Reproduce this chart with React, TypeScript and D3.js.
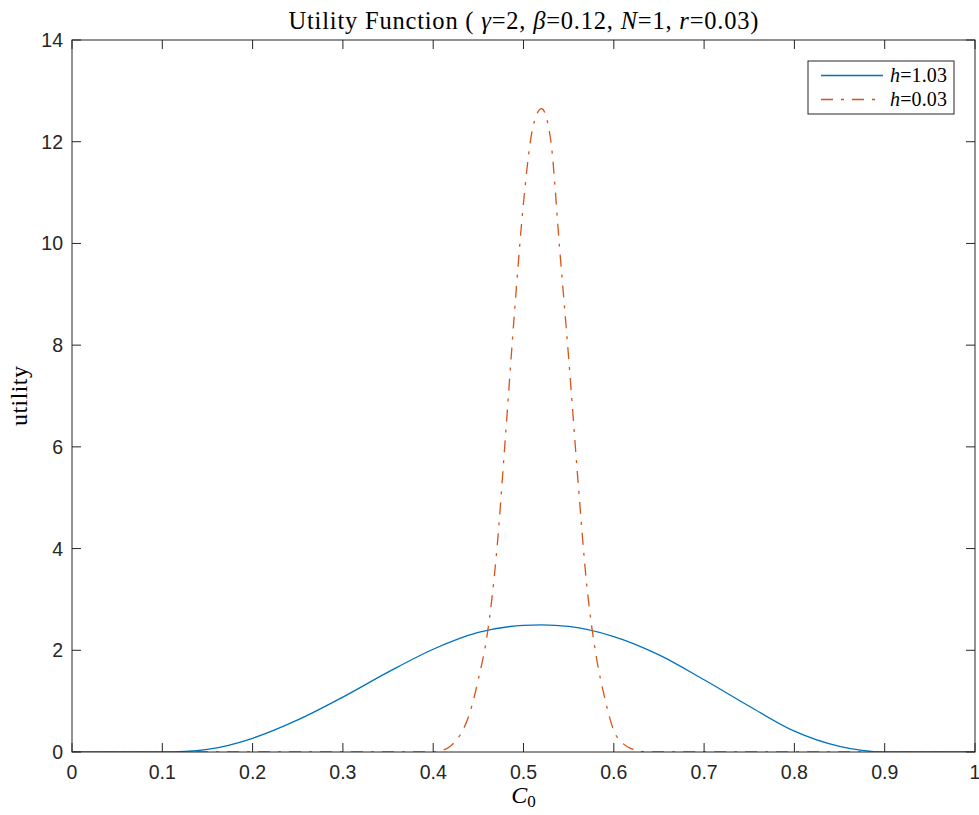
import React from 'react'
import * as d3 from 'd3'

// consumption share C0 sample points and utility readings for each h
const c0High = [0, 0.05, 0.1, 0.125, 0.15, 0.2, 0.25, 0.3, 0.35, 0.4, 0.45, 0.5, 0.52, 0.55, 0.6, 0.65, 0.7, 0.75, 0.8, 0.85, 0.875, 0.9, 0.95, 1]
const utilHigh = [0, 0, 0, 0.01, 0.05, 0.27, 0.63, 1.08, 1.57, 2.02, 2.35, 2.49, 2.5, 2.47, 2.27, 1.91, 1.42, 0.9, 0.41, 0.11, 0.03, 0, 0, 0]

const c0Low = [0, 0.1, 0.2, 0.3, 0.4, 0.41, 0.42, 0.43, 0.44, 0.45, 0.46, 0.47, 0.48, 0.49, 0.5, 0.51, 0.52, 0.53, 0.54, 0.55, 0.56, 0.57, 0.58, 0.59, 0.6, 0.61, 0.62, 0.63, 0.64, 0.7, 0.8, 0.9, 1]
const utilLow = [0, 0, 0, 0, 0, 0.03, 0.13, 0.34, 0.74, 1.43, 2.33, 3.88, 6.2, 8.64, 10.8, 12.25, 12.65, 12.05, 9.9, 7.75, 5.41, 3.29, 1.94, 1.06, 0.42, 0.17, 0.06, 0.01, 0, 0, 0, 0, 0]

const xTicks = [0, 0.1, 0.2, 0.3, 0.4, 0.5, 0.6, 0.7, 0.8, 0.9, 1]
const yTicks = [0, 2, 4, 6, 8, 10, 12, 14]

const W = 979
const H = 815
const margin = {top: 40, right: 4, bottom: 63, left: 72}
const axisColor = '#262626'
const blue = '#0072BD'
const orange = '#D95319'
const tickLen = 9
const serif = "'Liberation Serif', serif"
const sans = "'Liberation Sans', Arial, sans-serif"

export default function App() {
    const x = d3.scaleLinear().domain([0, 1]).range([margin.left, W - margin.right])
    const y = d3.scaleLinear().domain([0, 14]).range([H - margin.bottom, margin.top])

    const line = d3.line<[number, number]>()
        .x(d => x(d[0]))
        .y(d => y(d[1]))
        .curve(d3.curveMonotoneX)

    const highPath = line(c0High.map((c, i) => [c, utilHigh[i]]))
    const lowPath = line(c0Low.map((c, i) => [c, utilLow[i]]))

    const x0 = x(0), x1 = x(1), y0 = y(0), y1 = y(14)
    const dash = '12,8,3,8'

    // legend box
    const lg = {x: 808, y: 61, w: 146, h: 53}

    return (
        <svg width={W} height={H} style={{position: 'absolute', left: 0, top: 0, background: '#fff'}}>
            <rect x={0} y={0} width={W} height={H} fill="#fff"/>
            <defs>
                <clipPath id="plotClip">
                    <rect x={x0} y={y1} width={x1 - x0} height={y0 - y1}/>
                </clipPath>
            </defs>

            {/* curves */}
            <g clipPath="url(#plotClip)">
                <path d={highPath || ''} fill="none" stroke={blue} strokeWidth={1.3}/>
                <path d={lowPath || ''} fill="none" stroke={orange} strokeWidth={1.3} strokeDasharray={dash}/>
            </g>

            {/* axes box */}
            <rect x={x0} y={y1} width={x1 - x0} height={y0 - y1} fill="none" stroke={axisColor} strokeWidth={1}/>

            {/* x ticks, inside on bottom & top */}
            {xTicks.map(t => (
                <g key={'x' + t}>
                    <line x1={x(t)} x2={x(t)} y1={y0} y2={y0 - tickLen} stroke={axisColor}/>
                    <line x1={x(t)} x2={x(t)} y1={y1} y2={y1 + tickLen} stroke={axisColor}/>
                    <text x={x(t)} y={y0 + 27} textAnchor="middle" fontFamily={sans}
                          fontSize={19.5} fill={axisColor}>{t}</text>
                </g>
            ))}

            {/* y ticks, inside on left & right */}
            {yTicks.map(t => (
                <g key={'y' + t}>
                    <line x1={x0} x2={x0 + tickLen} y1={y(t)} y2={y(t)} stroke={axisColor}/>
                    <line x1={x1} x2={x1 - tickLen} y1={y(t)} y2={y(t)} stroke={axisColor}/>
                    <text x={x0 - 9} y={y(t) + 7} textAnchor="end" fontFamily={sans}
                          fontSize={19.5} fill={axisColor}>{t}</text>
                </g>
            ))}

            {/* title */}
            <text x={(x0 + x1) / 2} y={29} textAnchor="middle" fontFamily={serif} fontSize={24.5}
                  textLength={470} lengthAdjust="spacing" fill="#000">
                Utility Function ( <tspan fontStyle="italic">γ</tspan>=2, <tspan fontStyle="italic">β</tspan>=0.12, <tspan
                fontStyle="italic">N</tspan>=1, <tspan fontStyle="italic">r</tspan>=0.03)
            </text>

            {/* axis labels */}
            <text x={(x0 + x1) / 2} y={803} textAnchor="middle" fontFamily={serif} fontSize={24}
                  fill="#000">
                <tspan fontStyle="italic">C</tspan><tspan fontSize={17} dy={4}>0</tspan>
            </text>
            <text transform={`translate(27,${(y0 + y1) / 2}) rotate(-90)`} textAnchor="middle"
                  fontFamily={serif} fontSize={24} textLength={60} lengthAdjust="spacing" fill="#000">utility</text>

            {/* legend */}
            <rect x={lg.x} y={lg.y} width={lg.w} height={lg.h} fill="#fff" stroke={axisColor} strokeWidth={1}/>
            <line x1={821} x2={883} y1={75.5} y2={75.5} stroke={blue} strokeWidth={1.3}/>
            <line x1={821} x2={883} y1={99.5} y2={99.5} stroke={orange} strokeWidth={1.3} strokeDasharray={dash}/>
            <text x={890} y={82} fontFamily={serif} fontSize={20} textLength={57} lengthAdjust="spacing" fill="#000">
                <tspan fontStyle="italic">h</tspan>=1.03
            </text>
            <text x={890} y={106} fontFamily={serif} fontSize={20} textLength={57} lengthAdjust="spacing" fill="#000">
                <tspan fontStyle="italic">h</tspan>=0.03
            </text>
        </svg>
    )
}
